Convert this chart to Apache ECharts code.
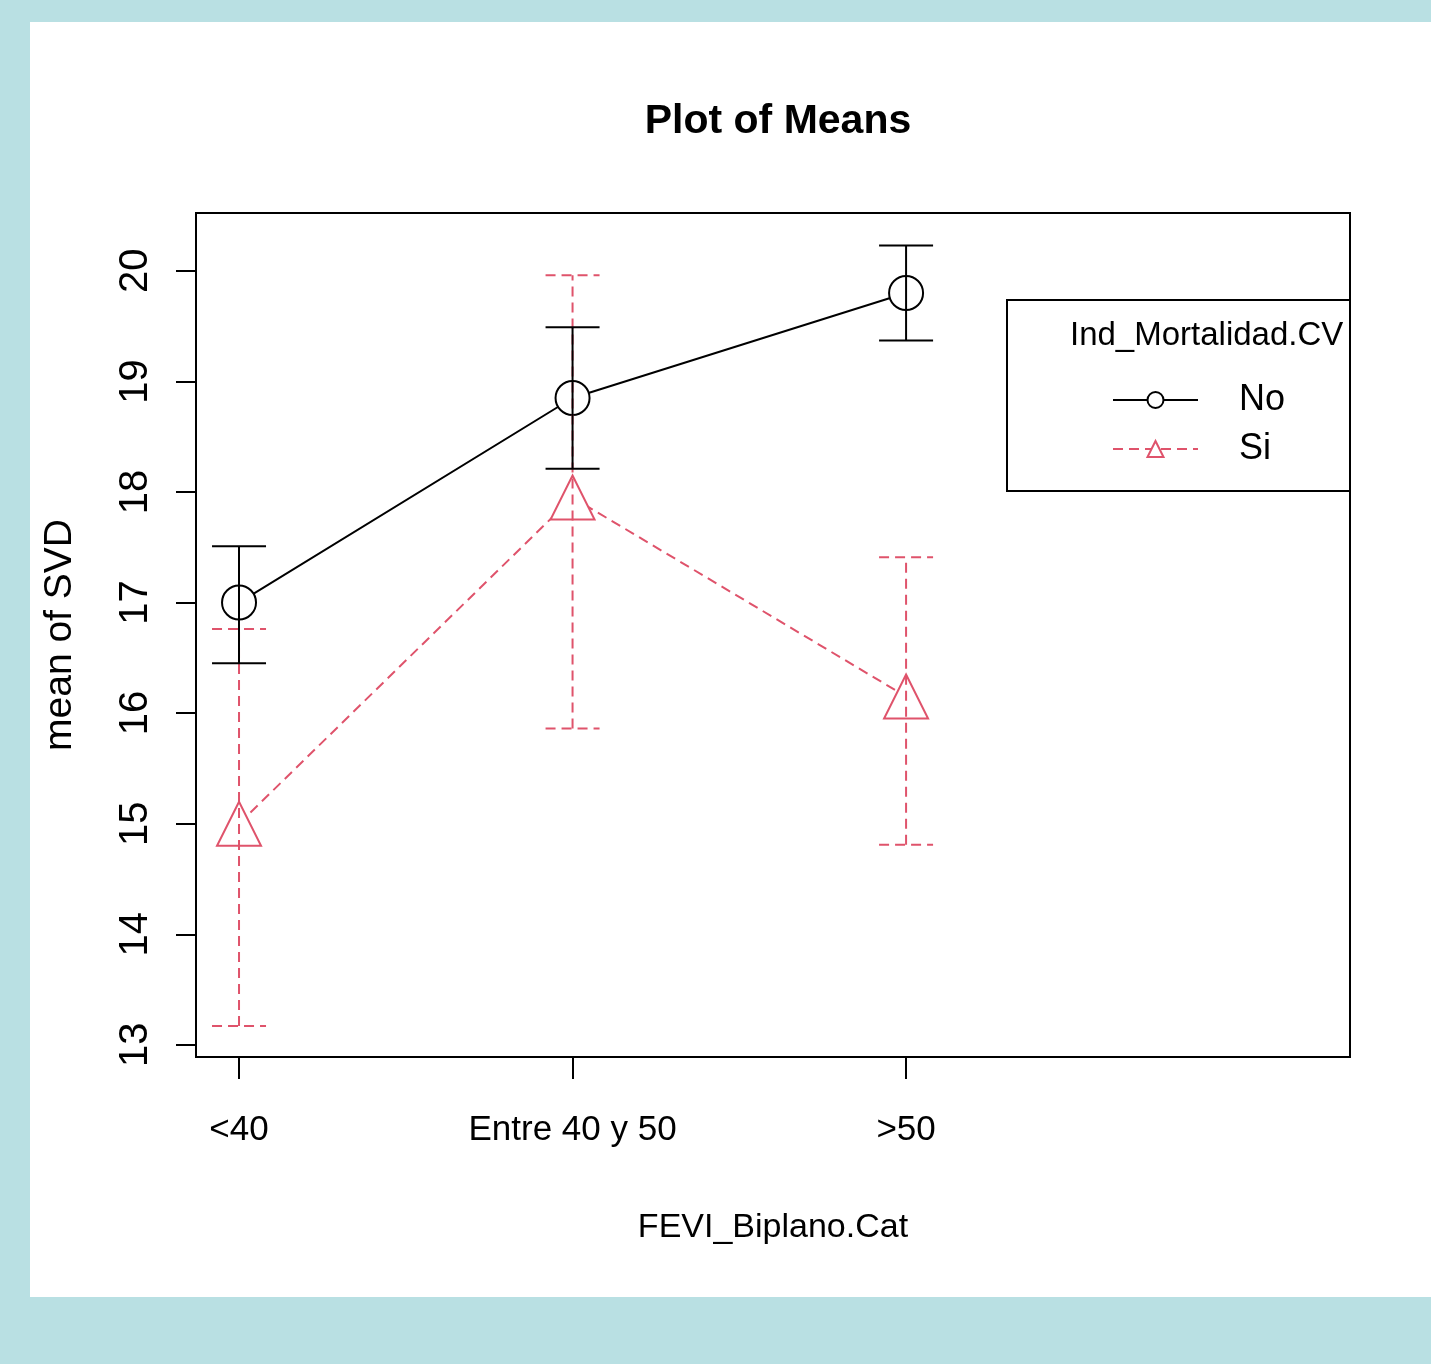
<!DOCTYPE html>
<html>
<head>
<meta charset="utf-8">
<title>Plot of Means</title>
<script src="https://cdn.jsdelivr.net/npm/echarts@6/dist/echarts.min.js"></script>
<style>
body{margin:0;background:#b9e0e3;}
#panel{position:absolute;left:30px;top:22px;width:1401px;height:1275px;background:#fff;}
#main{position:absolute;left:0;top:0;width:1431px;height:1364px;}
</style>
</head>
<body>
<div id="panel"></div>
<div id="main"></div>
<script>
// datos
var categories = ['<40', 'Entre 40 y 50', '>50'];
var yTicks = [13, 14, 15, 16, 17, 18, 19, 20];
var noMean  = [17.00, 18.85, 19.80];
var noLower = [16.45, 18.21, 19.37];
var noUpper = [17.51, 19.49, 20.23];
var siMean  = [15.00, 17.95, 16.15];
var siLower = [13.17, 15.86, 14.81];
var siUpper = [16.76, 19.96, 17.41];

var fuente = "'Liberation Sans', Arial, sans-serif";
var rojo = '#DF536B';

function pts(arr){
	return arr.map(function(v, i){ return [i + 1, v]; });
}
function bars(lo, hi){
	return lo.map(function(v, i){ return [i + 1, v, hi[i]]; });
}
function errorItem(color, dash){
	return function(params, api){
		var x = api.value(0);
		var a = api.coord([x, api.value(1)]);
		var b = api.coord([x, api.value(2)]);
		var w = 27;
		var st = {stroke: color, lineWidth: 2, lineDash: dash, fill: null};
		return {type: 'group', children: [
			{type: 'line', shape: {x1: a[0], y1: a[1], x2: b[0], y2: b[1]}, style: st},
			{type: 'line', shape: {x1: b[0] - w, y1: b[1], x2: b[0] + w, y2: b[1]}, style: st},
			{type: 'line', shape: {x1: a[0] - w, y1: a[1], x2: a[0] + w, y2: a[1]}, style: st}
		]};
	};
}

var myChart = echarts.init(document.getElementById('main'));
var option = {
	backgroundColor: 'transparent',
	animation: false,
	title: {
		text: 'Plot of Means',
		left: 773, top: 96, textAlign: 'center',
		textStyle: {fontFamily: fuente, fontSize: 41, fontWeight: 'bold', color: '#000'}
	},
	grid: {
		left: 196, top: 213, width: 1154, height: 844,
		show: true, borderColor: '#000', borderWidth: 2, backgroundColor: 'transparent'
	},
	graphic: [
		{type: 'rect', shape: {x: 1007, y: 300, width: 343, height: 191},
		 style: {fill: '#fff', stroke: '#000', lineWidth: 2}, z: 3},
		{type: 'text', x: 1070, y: 336,
		 style: {text: 'Ind_Mortalidad.CV', font: '33px ' + fuente, fill: '#000', verticalAlign: 'middle'}, z: 4}
	],
	legend: {
		data: ['No', 'Si'],
		orient: 'vertical',
		left: 1112, top: 380,
		itemWidth: 85, itemHeight: 20, itemGap: 9,
		padding: 0,
		textStyle: {fontFamily: fuente, fontSize: 36, lineHeight: 40, color: '#000', padding: [0, 0, 0, 36]}
	},
	xAxis: {
		type: 'value', min: 0.871, max: 4.331,
		name: 'FEVI_Biplano.Cat', nameLocation: 'middle', nameGap: 154,
		nameTextStyle: {fontFamily: fuente, fontSize: 34, color: '#000'},
		axisLine: {show: false},
		splitLine: {show: false},
		axisTick: {show: true, inside: false, length: 22, customValues: [1, 2, 3],
			lineStyle: {color: '#000', width: 2}},
		axisLabel: {customValues: [1, 2, 3], margin: 56,
			fontFamily: fuente, fontSize: 35, color: '#000',
			formatter: function(v){ return categories[Math.round(v) - 1] || ''; }}
	},
	yAxis: {
		type: 'value', min: 12.89, max: 20.523,
		name: 'mean of SVD', nameLocation: 'middle', nameRotate: 90, nameGap: 116,
		nameTextStyle: {fontFamily: fuente, fontSize: 39, color: '#000'},
		axisLine: {show: false},
		splitLine: {show: false},
		axisTick: {show: true, inside: false, length: 20, customValues: yTicks,
			lineStyle: {color: '#000', width: 2}},
		axisLabel: {customValues: yTicks, rotate: 90, margin: 40,
			fontFamily: fuente, fontSize: 40, color: '#000'}
	},
	series: [
		{
			name: 'No', type: 'line', data: pts(noMean), z: 2,
			symbol: 'circle', symbolSize: 34,
			lineStyle: {color: '#000', width: 2},
			itemStyle: {color: '#fff', borderColor: '#000', borderWidth: 2}
		},
		{
			name: 'Si', type: 'line', data: pts(siMean), z: 2,
			symbol: 'triangle', symbolSize: 44,
			lineStyle: {color: rojo, width: 2, type: [10, 6]},
			itemStyle: {color: '#fff', borderColor: rojo, borderWidth: 2}
		},
		{
			name: 'Si IC', type: 'custom', data: bars(siLower, siUpper), z: 3,
			renderItem: errorItem(rojo, [10, 6]),
			encode: {x: 0, y: [1, 2]}
		},
		{
			name: 'No IC', type: 'custom', data: bars(noLower, noUpper), z: 3,
			renderItem: errorItem('#000', null),
			encode: {x: 0, y: [1, 2]}
		}
	]
};
myChart.setOption(option);
</script>
</body>
</html>
